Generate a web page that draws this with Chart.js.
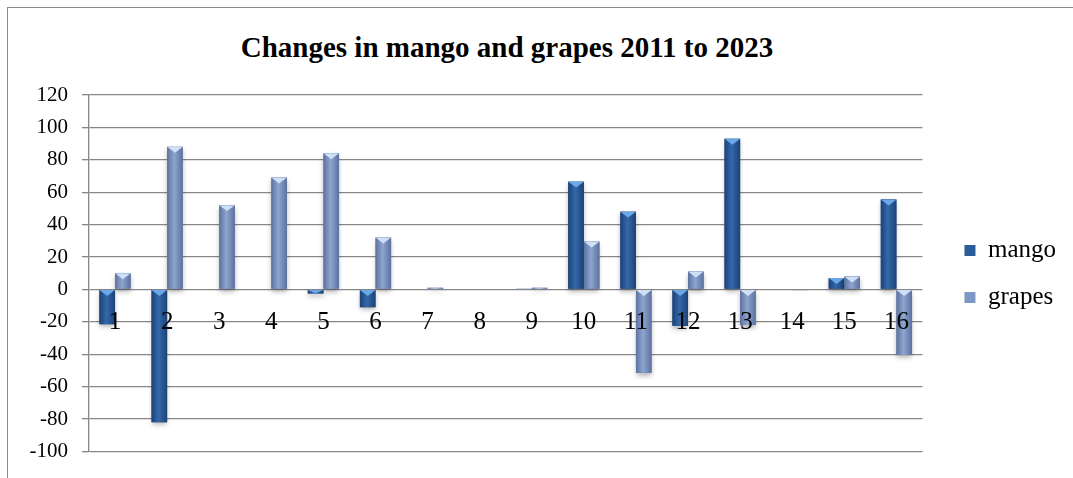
<!DOCTYPE html>
<html>
<head>
<meta charset="utf-8">
<script src="https://cdn.jsdelivr.net/npm/chart.js@4"></script>
<style>
  body { margin: 0; background: #fff; }
  #wrap { position: relative; width: 1073px; height: 478px; overflow: hidden; }
  #frame { position: absolute; left: 7px; top: 7px; width: 1200px; height: 600px;
           border-left: 1.5px solid #8c8c8c; border-top: 1.5px solid #8c8c8c; }
  #title { position: absolute; left: 0; top: 33px; width: 1014px; text-align: center;
           font: bold 29px "Liberation Serif", "Times New Roman", serif; line-height: 28px; color: #000; }
  canvas { position: absolute; left: 0; top: 0; }
</style>
</head>
<body>
<div id="wrap">
  <div id="frame"></div>
  <div id="title">Changes in mango and grapes 2011 to 2023</div>
  <canvas id="chart" width="1073" height="478"></canvas>
</div>
<script>
// categories and values
const categories = ['1', '2', '3', '4', '5', '6', '7', '8', '9', '10', '11', '12', '13', '14', '15', '16'];
const mango = [-21.5, -82, 0, -0.4, -2.5, -11, 0, 0, 0.5, 66.5, 48, -22.5, 93, 0, 7, 55.5];
const grapes = [10, 88, 52, 69, 84, 32, 1, 0, 1, 29.5, -51.5, 11, -22, -0.5, 8, -40.5];
const yMin = -100;
const yMax = 120;
const yStep = 20;

const serif = '"Liberation Serif", "Times New Roman", serif';

// edge / middle / cap colours for the bevelled bars
const shades = [
    { edge: '#1c4276', mid: '#3468aa', cap: '#6aa8ea' },
    { edge: '#5b72a0', mid: '#8ea5d0', cap: '#cfe0f6' }
];

// paints each bar with a side gradient and a light bevel triangle on top
const bevelBars = {
    id: 'bevelBars',
    afterDatasetsDraw(chart) {
        const ctx = chart.ctx;
        chart.data.datasets.forEach((ds, di) => {
            const meta = chart.getDatasetMeta(di);
            const s = shades[di];
            meta.data.forEach(bar => {
                const left = bar.x - bar.width / 2;
                const right = bar.x + bar.width / 2;
                const top = Math.min(bar.y, bar.base);
                const bottom = Math.max(bar.y, bar.base);
                const h = bottom - top;
                if (h < 0.5) return;
                ctx.save();
                ctx.shadowColor = 'rgba(0,0,0,0.28)';
                ctx.shadowBlur = 5;
                ctx.shadowOffsetY = 3;
                const g = ctx.createLinearGradient(left, 0, right, 0);
                g.addColorStop(0, s.edge);
                g.addColorStop(0.45, s.mid);
                g.addColorStop(1, s.edge);
                ctx.fillStyle = g;
                ctx.fillRect(left, top, right - left, h);
                ctx.restore();
                // bevel cap
                const th = Math.min(bar.width * 0.38, h);
                ctx.save();
                ctx.beginPath();
                ctx.rect(left, top, right - left, h);
                ctx.clip();
                ctx.fillStyle = s.cap;
                ctx.beginPath();
                ctx.moveTo(left, top);
                ctx.lineTo(right, top);
                ctx.lineTo(bar.x, top + th);
                ctx.closePath();
                ctx.fill();
                ctx.restore();
            });
        });
    }
};

// nudge the legend a little away from the plot, as in the original
const legendShift = {
    id: 'legendShift',
    afterLayout(chart) {
        const lg = chart.legend;
        if (!lg) return;
        lg.left = chart.chartArea.right + 20;
        lg.right = chart.width;
        lg.width = lg.right - lg.left;
    }
};

new Chart(document.getElementById('chart'), {
    type: 'bar',
    data: {
        labels: categories,
        datasets: [
            { label: 'mango', data: mango, backgroundColor: '#2b5c9a', borderWidth: 0 },
            { label: 'grapes', data: grapes, backgroundColor: '#7f97c4', borderWidth: 0 }
        ]
    },
    options: {
        responsive: false,
        animation: false,
        layout: { padding: { top: 95, bottom: 25, left: 0, right: 27 } },
        datasets: { bar: { categoryPercentage: 0.6, barPercentage: 1.0 } },
        scales: {
            x: {
                position: { y: 0 },
                grid: { display: false },
                border: { display: false },
                ticks: { z: 1, color: '#000', font: { family: serif, size: 25 }, padding: 10, maxRotation: 0 }
            },
            y: {
                min: yMin,
                max: yMax,
                afterFit(scale) { scale.width = 89; },
                ticks: { stepSize: yStep, color: '#000', font: { family: serif, size: 21 }, padding: 14 },
                grid: { color: '#878787', lineWidth: 1.3, tickLength: 7 },
                border: { color: '#878787', width: 1.3 }
            }
        },
        plugins: {
            title: { display: false },
            tooltip: { enabled: false },
            legend: {
                position: 'right',
                labels: {
                    color: '#000',
                    font: { family: serif, size: 25 },
                    boxWidth: 11,
                    boxHeight: 11,
                    padding: 22
                }
            }
        }
    },
    plugins: [bevelBars, legendShift]
});
</script>
</body>
</html>
